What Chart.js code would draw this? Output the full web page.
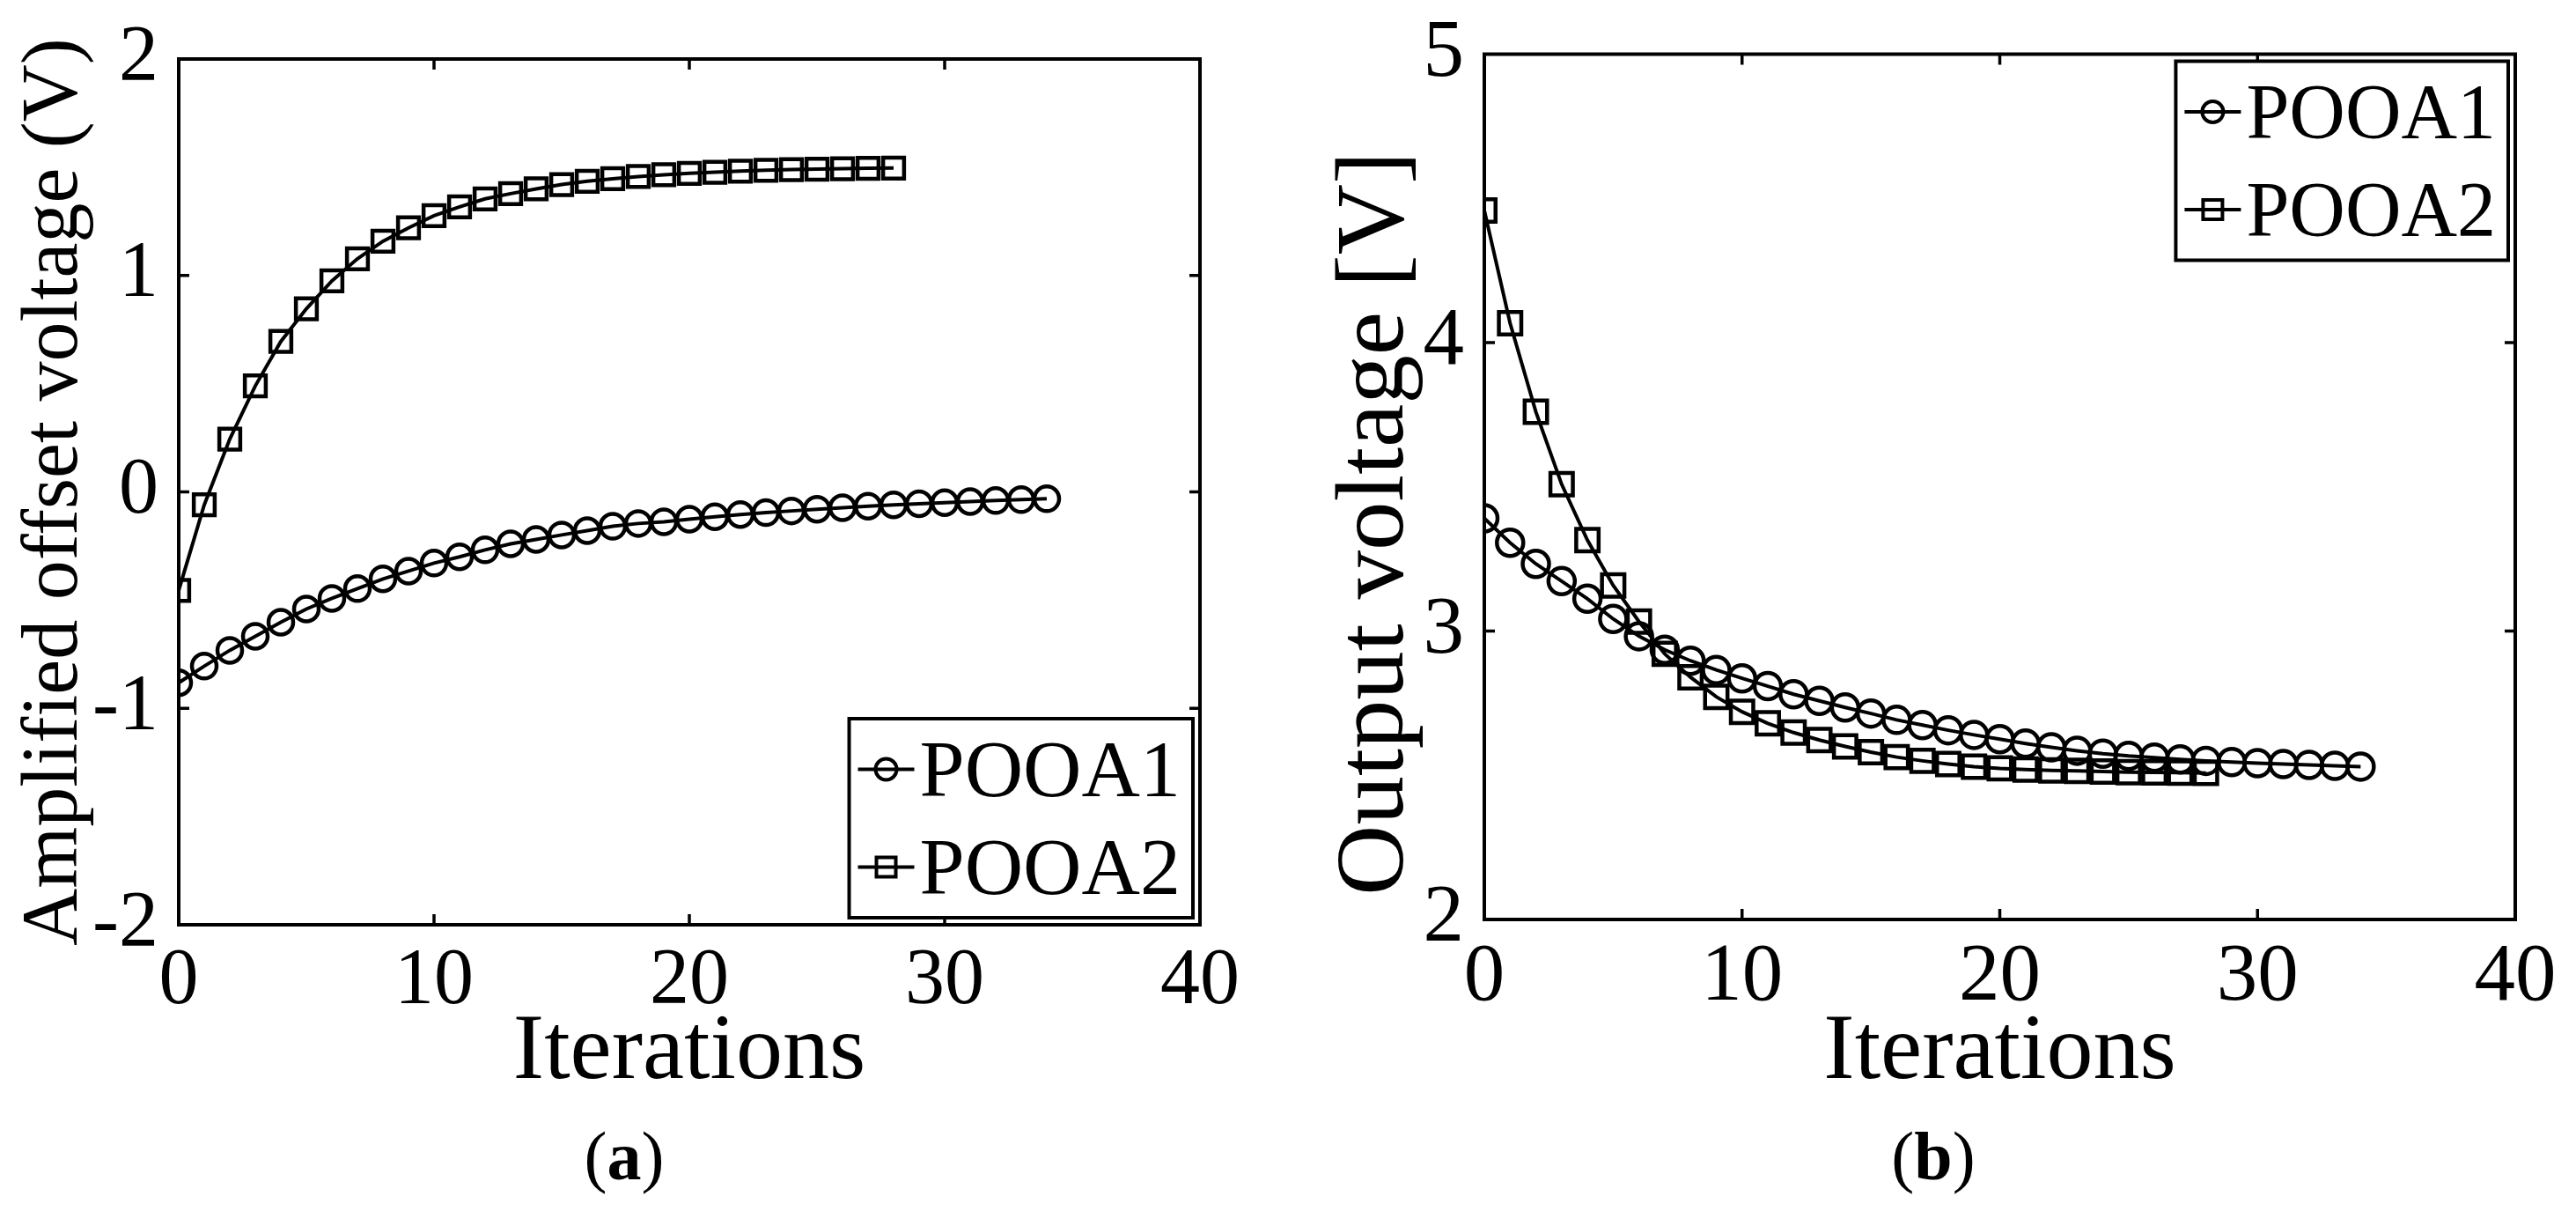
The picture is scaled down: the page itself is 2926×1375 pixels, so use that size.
<!DOCTYPE html>
<html>
<head>
<meta charset="utf-8">
<script src="https://cdn.jsdelivr.net/npm/chart.js@4.4.1/dist/chart.umd.min.js"></script>
<style>
  body { margin: 0; background: #fff; width: 2926px; height: 1375px; position: relative; overflow: hidden; font-family: 'Liberation Serif', serif; }
  .box { position: absolute; top: 0; height: 1260px; }
  .cap { position: absolute; top: 1274px; font-size: 78px; line-height: 78px; transform: translateX(-50%); color: #000; }
</style>
</head>
<body>
<div class="box" style="left:0;width:1460px"><canvas id="chartA"></canvas></div>
<div class="box" style="left:1460px;width:1466px"><canvas id="chartB"></canvas></div>
<div class="cap" style="left:709px">(<b>a</b>)</div>
<div class="cap" style="left:2196px">(<b>b</b>)</div>
<script>
// ---- data ----
const seriesNames = ["POOA1", "POOA2"];
const xTicks = [0, 10, 20, 30, 40];
const offsetTicks = [-2, -1, 0, 1, 2];
const outputTicks = [2, 3, 4, 5];

// (a) amplified offset voltage, one value per iteration (starting at 0)
const offsetPOOA1 = [-0.882, -0.805, -0.732, -0.667, -0.602, -0.541, -0.492, -0.447, -0.402, -0.366,
  -0.329, -0.300, -0.268, -0.240, -0.220, -0.199, -0.179, -0.159, -0.146, -0.138,
  -0.126, -0.115, -0.105, -0.096, -0.088, -0.080, -0.073, -0.066, -0.060, -0.055,
  -0.050, -0.045, -0.040, -0.036, -0.032];
const offsetPOOA2 = [-0.455, -0.060, 0.244, 0.490, 0.695, 0.846, 0.975, 1.077, 1.158, 1.220,
  1.276, 1.317, 1.354, 1.378, 1.400, 1.420, 1.435, 1.447, 1.457, 1.465,
  1.472, 1.477, 1.482, 1.486, 1.489, 1.491, 1.493, 1.495, 1.496];

// (b) output voltage
const outputPOOA1 = [3.391, 3.306, 3.233, 3.173, 3.112, 3.042, 2.982, 2.935, 2.897, 2.865,
  2.836, 2.809, 2.781, 2.758, 2.735, 2.714, 2.692, 2.674, 2.656, 2.640,
  2.625, 2.610, 2.597, 2.585, 2.575, 2.567, 2.561, 2.555, 2.550, 2.546,
  2.542, 2.539, 2.536, 2.533, 2.530];
const outputPOOA2 = [4.458, 4.067, 3.760, 3.509, 3.315, 3.158, 3.033, 2.921, 2.840, 2.772,
  2.720, 2.680, 2.648, 2.622, 2.600, 2.580, 2.563, 2.550, 2.539, 2.530,
  2.524, 2.520, 2.517, 2.515, 2.513, 2.511, 2.510, 2.509, 2.508];

const FONT = "'Liberation Serif', 'Times New Roman', serif";
const toPoints = vals => vals.map((v, i) => ({ x: i, y: v }));

// box around the plot with inward ticks on all four sides
const framePlugin = {
  id: "frame",
  afterDatasetsDraw(chart) {
    const { ctx, chartArea: a, scales: { x, y } } = chart;
    const len = 12;
    ctx.save();
    ctx.strokeStyle = "#000";
    ctx.lineWidth = 4;
    ctx.strokeRect(a.left, a.top, a.right - a.left, a.bottom - a.top);
    ctx.lineWidth = 3.5;
    ctx.beginPath();
    x.ticks.forEach(t => {
      const px = x.getPixelForValue(t.value);
      if (px <= a.left + 2 || px >= a.right - 2) return;
      ctx.moveTo(px, a.bottom); ctx.lineTo(px, a.bottom - len);
      ctx.moveTo(px, a.top); ctx.lineTo(px, a.top + len);
    });
    y.ticks.forEach(t => {
      const py = y.getPixelForValue(t.value);
      if (py <= a.top + 2 || py >= a.bottom - 2) return;
      ctx.moveTo(a.left, py); ctx.lineTo(a.left + len, py);
      ctx.moveTo(a.right, py); ctx.lineTo(a.right - len, py);
    });
    ctx.stroke();
    ctx.restore();
  }
};

// matlab-like legend box: line sample + marker + label
const boxLegend = {
  id: "boxLegend",
  afterDraw(chart, args, opts) {
    const { ctx, chartArea: a } = chart;
    const sets = chart.data.datasets;
    ctx.save();
    ctx.font = opts.size + "px " + FONT;
    const tw = Math.max(...sets.map(d => ctx.measureText(d.label).width));
    const w = 80 + tw + 14, rowH = 111, h = rowH * sets.length + 4;
    const left = a.right - opts.inset - w;
    const top = opts.corner === "tr" ? a.top + opts.inset : a.bottom - opts.inset - h;
    ctx.fillStyle = "#fff";
    ctx.fillRect(left, top, w, h);
    ctx.strokeStyle = "#000";
    ctx.lineWidth = 4;
    ctx.strokeRect(left, top, w, h);
    sets.forEach((d, i) => {
      const cy = top + 2 + rowH * (i + 0.5);
      ctx.lineWidth = 4;
      ctx.beginPath();
      ctx.moveTo(left + 10, cy); ctx.lineTo(left + 74, cy);
      ctx.stroke();
      ctx.beginPath();
      if (d.pointStyle === "rect") {
        ctx.rect(left + 42 - 11, cy - 11, 22, 22);
      } else {
        ctx.arc(left + 42, cy, 12, 0, Math.PI * 2);
      }
      ctx.stroke();
      ctx.fillStyle = "#000";
      ctx.textBaseline = "alphabetic";
      ctx.fillText(d.label, left + 80, cy + opts.size * 0.331);
    });
    ctx.restore();
  }
};

function makeDataset(label, vals, style, sz) {
  return {
    label: label,
    data: toPoints(vals),
    borderColor: "#000",
    borderWidth: 4,
    pointStyle: style,
    pointRadius: style === "rect" ? sz * 1.2 : sz,
    pointBorderWidth: 4.5,
    pointBackgroundColor: "rgba(0,0,0,0)",
    pointBorderColor: "#000",
    tension: 0,
  };
}

function makeChart(id, opt) {
  const ctx = document.getElementById(id).getContext("2d");
  new Chart(ctx, {
    type: "line",
    data: {
      datasets: [
        makeDataset(seriesNames[0], opt.a1, "circle", opt.marker),
        makeDataset(seriesNames[1], opt.a2, "rect", opt.marker),
      ],
    },
    options: {
      responsive: true,
      maintainAspectRatio: false,
      animation: false,
      layout: { padding: { left: 0, top: opt.top, right: opt.right, bottom: 0 } },
      plugins: {
        legend: { display: false },
        tooltip: { enabled: false },
        boxLegend: opt.legend,
      },
      scales: {
        x: {
          type: "linear",
          min: 0,
          max: 40,
          afterBuildTicks: s => { s.ticks = xTicks.map(v => ({ value: v })); },
          afterFit: s => { s.height = 1260 - opt.bottom; },
          grid: { display: false },
          border: { display: false },
          ticks: {
            color: "#000",
            padding: 12,
            maxRotation: 0,
            font: { family: FONT, size: opt.tickSize, lineHeight: 1 },
          },
          title: {
            display: true,
            text: "Iterations",
            color: "#000",
            font: { family: FONT, size: 106, lineHeight: 1.2 },
            padding: { top: 0, bottom: 0 },
          },
        },
        y: {
          type: "linear",
          min: opt.yTicks[0],
          max: opt.yTicks[opt.yTicks.length - 1],
          afterBuildTicks: s => { s.ticks = opt.yTicks.map(v => ({ value: v })); },
          afterFit: s => { s.width = opt.left; },
          grid: { display: false },
          border: { display: false },
          ticks: {
            color: "#000",
            padding: 15,
            font: { family: FONT, size: opt.tickSize, lineHeight: 1 },
            callback: v => String(v),
          },
          title: {
            display: true,
            text: opt.yTitle,
            color: "#000",
            font: { family: FONT, size: opt.yTitleSize, lineHeight: 1.2 },
            padding: { top: opt.yTitlePad, bottom: 0 },
          },
        },
      },
    },
    plugins: [framePlugin, boxLegend],
  });
}

makeChart("chartA", {
  a1: offsetPOOA1, a2: offsetPOOA2, yTicks: offsetTicks,
  yTitle: "Amplified offset voltage (V)", yTitleSize: 90, yTitlePad: 9,
  left: 203, top: 67, right: 97, bottom: 1050, tickSize: 90, marker: 14,
  legend: { corner: "br", inset: 8, size: 92 },
});

makeChart("chartB", {
  a1: outputPOOA1, a2: outputPOOA2, yTicks: outputTicks,
  // trailing spaces push the visible text a little below the axis middle, as in the figure
  yTitle: "Output voltage [V]   ", yTitleSize: 111, yTitlePad: 37,
  left: 226, top: 54, right: 69, bottom: 1044, tickSize: 93, marker: 15,
  legend: { corner: "tr", inset: 8, size: 88 },
});
</script>
</body>
</html>
